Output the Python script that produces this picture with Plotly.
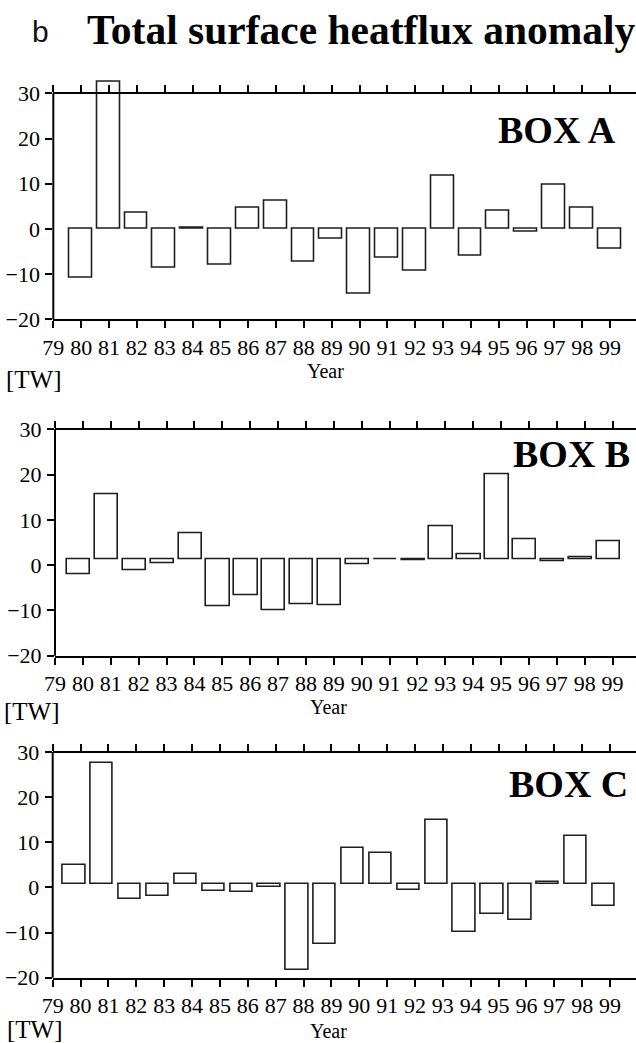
import plotly.graph_objects as go

# Years on the x axis (two-digit labels) and bar positions
tick_years = list(range(79, 100))
years = list(range(80, 100))

# Bar end values [TW] per box; each bar is drawn from its box's baseline
box_a = [-10.7, 32.6, 3.5, -8.6, 0.3, -8.0, 4.6, 6.2, -7.3, -2.2,
         -14.4, -6.3, -9.3, 11.7, -6.0, 4.0, -0.6, 9.7, 4.7, -4.3]
box_b = [-2.1, 15.7, -1.2, 0.4, 7.1, -9.1, -6.6, -9.9, -8.6, -8.8,
         0.2, 1.3, 1.0, 8.6, 2.3, 20.0, 5.6, 0.9, 1.7, 5.2]
box_c = [5.0, 27.5, -2.6, -1.8, 2.9, -0.8, -1.1, 0.2, -18.4, -12.5,
         8.75, 7.6, -0.55, 15.0, -9.9, -5.9, -7.3, 1.2, 11.35, -4.2]
baselines = [0.0, 1.2, 0.7]
box_names = ["BOX A", "BOX B", "BOX C"]
y_ticks = [-20, -10, 0, 10, 20, 30]

W, H = 636, 1043
SERIF = "Liberation Serif"

# Per-panel layout: pixel rows of the 30 / -20 gridlines, left edge, x range, bar geometry
panels = [
    dict(vals=box_a, base=baselines[0], name=box_names[0], top_px=93.3, bot_px=319.3,
         left_px=53.3, xmax=99.93, ymax=33.0, width=0.82, shift=-0.02,
         label_xy=(557, 130), unit_xy=(34, 380), year_xy=(325, 371)),
    dict(vals=box_b, base=baselines[1], name=box_names[1], top_px=429.3, bot_px=655.7,
         left_px=55.0, xmax=99.84, ymax=30.0, width=0.835, shift=-0.15,
         label_xy=(571, 454), unit_xy=(32, 711), year_xy=(328, 707)),
    dict(vals=box_c, base=baselines[2], name=box_names[2], top_px=752.0, bot_px=977.7,
         left_px=52.7, xmax=99.93, ymax=30.0, width=0.80, shift=-0.23,
         label_xy=(568, 784), unit_xy=(35, 1029), year_xy=(328, 1031)),
]

fig = go.Figure()
layout = dict(
    width=W, height=H, margin=dict(l=0, r=0, t=0, b=0, autoexpand=False),
    paper_bgcolor="white", plot_bgcolor="white", showlegend=False,
    bargap=0, barmode="overlay",
    font=dict(family=SERIF, size=22, color="black"),
)
shapes, annotations = [], []

for i, p in enumerate(panels):
    n = i + 1
    xa, ya, xt = f"x{n if n > 1 else ''}", f"y{n if n > 1 else ''}", f"x{n + 3}"
    xkey, ykey, tkey = f"xaxis{n if n > 1 else ''}", f"yaxis{n if n > 1 else ''}", f"xaxis{n + 3}"

    px_per_unit = (p["bot_px"] - p["top_px"]) / 50.0
    top_px = p["top_px"] - (p["ymax"] - 30) * px_per_unit
    ydom = [(H - p["bot_px"]) / H, (H - top_px) / H]
    xdom = [p["left_px"] / W, 1.0]
    y30 = (H - p["top_px"]) / H

    fig.add_trace(go.Bar(
        x=years, y=[v - p["base"] for v in p["vals"]], base=p["base"],
        width=p["width"], offset=-p["width"] / 2 + p["shift"],
        marker=dict(color="rgba(255,255,255,0)", line=dict(color="#1e1e1e", width=1.6)),
        xaxis=xa, yaxis=ya, hoverinfo="skip",
    ))
    # invisible trace that carries the top axis
    fig.add_trace(go.Scatter(x=[None], y=[None], xaxis=xt, yaxis=ya,
                             showlegend=False, hoverinfo="skip"))

    tick_font = dict(family=SERIF, size=22, color="black")
    layout[xkey] = dict(
        domain=xdom, range=[79, p["xmax"]], anchor=ya,
        tickmode="array", tickvals=tick_years, ticktext=[str(y) for y in tick_years],
        ticks="outside", ticklen=7, tickwidth=1.5, tickcolor="black",
        showline=True, linecolor="black", linewidth=2, showgrid=False, zeroline=False,
        tickfont=tick_font, ticklabelstandoff=0,
    )
    layout[tkey] = dict(
        domain=xdom, range=[79, p["xmax"]], overlaying=xa, anchor="free", position=y30,
        side="top", tickmode="array", tickvals=tick_years, showticklabels=False,
        ticks="outside", ticklen=7, tickwidth=1.5, tickcolor="black",
        showline=True, linecolor="black", linewidth=2, showgrid=False, zeroline=False,
    )
    layout[ykey] = dict(
        domain=ydom, range=[-20, p["ymax"]], anchor=xa,
        tickmode="array", tickvals=y_ticks,
        ticks="outside", ticklen=7, tickwidth=1.5, tickcolor="black",
        showline=False, showgrid=False, zeroline=False, tickfont=tick_font,
        ticklabelstandoff=1,
    )
    # left spine, from -20 up to 30
    shapes.append(dict(type="line", xref=f"{xa} domain", yref=f"{ya} domain",
                       x0=0, x1=0, y0=0, y1=50.0 / (p["ymax"] + 20),
                       line=dict(color="black", width=2)))

    lx, ly = p["label_xy"]
    annotations.append(dict(text=f"<b>{p['name']}</b>", xref="paper", yref="paper",
                            x=lx / W, y=1 - ly / H, xanchor="center", yanchor="middle",
                            showarrow=False, font=dict(family=SERIF, size=38, color="black")))
    ux, uy = p["unit_xy"]
    annotations.append(dict(text="[TW]", xref="paper", yref="paper",
                            x=ux / W, y=1 - uy / H, xanchor="center", yanchor="middle",
                            showarrow=False, font=dict(family=SERIF, size=25, color="black")))
    yx, yy = p["year_xy"]
    annotations.append(dict(text="Year", xref="paper", yref="paper",
                            x=yx / W, y=1 - yy / H, xanchor="center", yanchor="middle",
                            showarrow=False, font=dict(family=SERIF, size=20, color="black")))

# figure heading
annotations.append(dict(text="b", xref="paper", yref="paper", x=40 / W, y=1 - 31 / H,
                        xanchor="center", yanchor="middle", showarrow=False,
                        font=dict(family="Liberation Sans", size=30, color="#111111")))
annotations.append(dict(text="<b>Total surface heatflux anomaly</b>", xref="paper", yref="paper",
                        x=85 / W, y=1 - 30 / H, xanchor="left", yanchor="middle", showarrow=False,
                        font=dict(family=SERIF, size=41.5, color="black")))

layout["shapes"] = shapes
layout["annotations"] = annotations
fig.update_layout(**layout)

fig.write_html("out.html", post_script="document.body.style.margin = '0px';")
